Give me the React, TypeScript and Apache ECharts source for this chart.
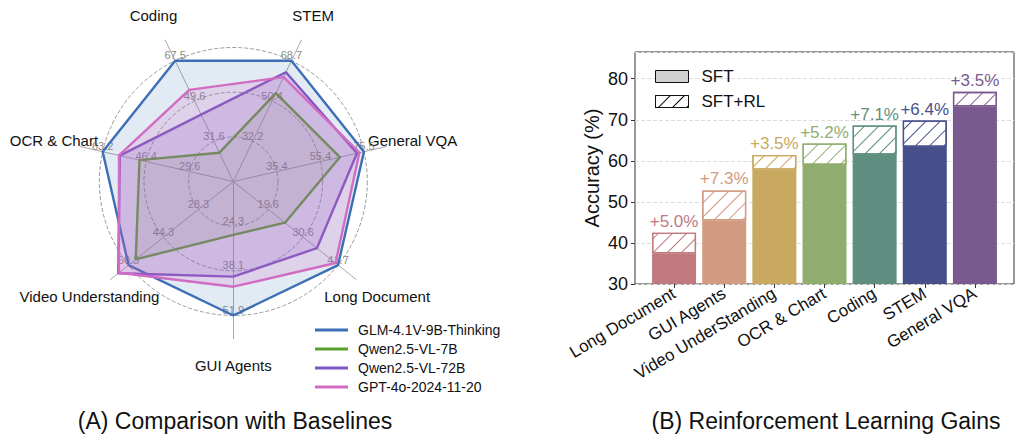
import React, { useEffect, useRef } from 'react';
import * as echarts from 'echarts';

// ---------- Radar data (A) ----------
const radarAxes = ['GUI Agents', 'Long Document', 'General VQA', 'STEM', 'Coding', 'OCR & Chart', 'Video Understanding'];
// ring tick labels per axis (inner, middle, outer)
const ringLabels = [
  [24.3, 38.1, 51.9],
  [19.6, 30.6, 41.7],
  [35.4, 55.4, 75.5],
  [32.2, 50.4, 68.7],
  [31.6, 49.6, 67.5],
  [29.6, 46.4, 63.2],
  [28.3, 44.3, 60.3],
];
const modelNames = ['GLM-4.1V-9B-Thinking', 'Qwen2.5-VL-7B', 'Qwen2.5-VL-72B', 'GPT-4o-2024-11-20'];
const glmValues = [51.9, 41.7, 75.5, 68.7, 67.5, 63.2, 60.3];
const qwen7bValues = [27.0, 24.9, 64.4, 54.0, 26.5, 49.0, 57.0];
const qwen72bValues = [39.9, 35.0, 72.3, 63.5, 43.5, 56.6, 65.0];
const gpt4oValues = [43.0, 40.9, 73.4, 61.3, 54.5, 56.9, 64.7];

// ---------- Bar data (B) ----------
const barCategories = ['Long Document', 'GUI Agents', 'Video UnderStanding', 'OCR & Chart', 'Coding', 'STEM', 'General VQA'];
const sftValues = [37.5, 45.5, 57.9, 59.0, 61.5, 63.4, 73.3];
const rlGains = [5.0, 7.3, 3.5, 5.2, 7.1, 6.4, 3.5];
const yMin = 30;
const yMax = 86.5;
const yInterval = 10;

const modelColors = ['#3d6fb6', '#5aa02c', '#7e57c2', '#d26cc3'];
const modelFill = [0.15, 0.12, 0.2, 0.2];
const barColors = ['#c07a7f', '#d39a82', '#c8a95f', '#8fad6f', '#5e8f80', '#464f8a', '#7a5a8e'];

const FONT = "'Liberation Sans', Arial, Helvetica, sans-serif";

const allRingLabels = ringLabels.flat();

function hatch(color: string) {
  return {
    symbol: 'rect',
    symbolSize: 1,
    dashArrayX: [[1, 0]],
    dashArrayY: [1, 9],
    rotation: -Math.PI / 4,
    color,
    backgroundColor: '#ffffff',
  };
}

export default function App() {
  const ref = useRef<HTMLDivElement>(null);
  useEffect(() => {
    document.body.style.margin = '0';
    const chart = echarts.init(ref.current!, undefined, { renderer: 'svg' });

    const indicators1 = radarAxes.map((name, i) => {
      const [l1, , l3] = ringLabels[i];
      const d = (l3 - l1) / 2;
      return { name, min: l1 - d, max: l3 };
    });
    const indicators2 = radarAxes.map((name) => ({ name, min: 0, max: 1 }));

    const radarSeriesData = [glmValues, qwen7bValues, qwen72bValues, gpt4oValues];

    const option: any = {
      animation: false,
      textStyle: { fontFamily: FONT },
      title: [
        {
          text: '(A) Comparison with Baselines',
          left: 230,
          textAlign: 'center',
          top: 404,
          textStyle: { fontFamily: FONT, fontSize: 23, fontWeight: 'normal', color: '#111' },
        },
        {
          text: '(B) Reinforcement Learning Gains',
          left: 821,
          textAlign: 'center',
          top: 404,
          textStyle: { fontFamily: FONT, fontSize: 23, fontWeight: 'normal', color: '#111' },
        },
      ],
      legend: [
        {
          data: modelNames.map((n, i) => ({ name: n, itemStyle: { color: modelColors[i] } })),
          orient: 'vertical',
          left: 310,
          top: 318,
          icon: 'rect',
          itemWidth: 33,
          itemHeight: 3,
          itemGap: 5,
          textStyle: { fontFamily: FONT, fontSize: 14, color: '#111', padding: [0, 0, 0, 5] },
          selectedMode: false,
        },
        {
          data: [
            { name: 'SFT', itemStyle: { color: '#d0d0d0', borderColor: '#111', borderWidth: 1 } },
            { name: 'SFT+RL', itemStyle: { color: '#ffffff', borderColor: '#111', borderWidth: 1, decal: hatch('#111') } },
          ],
          orient: 'vertical',
          left: 650,
          top: 63,
          icon: 'rect',
          itemWidth: 33,
          itemHeight: 12,
          itemGap: 8,
          textStyle: { fontFamily: FONT, fontSize: 17, color: '#111', padding: [0, 0, 0, 8] },
          selectedMode: false,
        },
      ],
      radar: [
        {
          center: [233.3, 181.5],
          radius: 134,
          startAngle: 270,
          splitNumber: 3,
          shape: 'circle',
          indicator: indicators1,
          axisName: { show: false },
          axisLine: { show: false },
          axisTick: { show: false },
          splitArea: { show: false },
          splitLine: { lineStyle: { color: '#9a9a9a', type: 'dashed', width: 1 } },
          axisLabel: {
            show: true,
            fontSize: 11,
            color: '#8a8a8a',
            fontFamily: FONT,
            margin: 0,
            align: 'center',
            verticalAlign: 'bottom',
            formatter: (value: number, index: number) => {
              if (index === 0) return '';
              let best = allRingLabels[0];
              for (const l of allRingLabels) if (Math.abs(l - value) < Math.abs(best - value)) best = l;
              return best.toFixed(1);
            },
          },
        },
        {
          center: [233.3, 181.5],
          radius: 157,
          startAngle: 270,
          splitNumber: 1,
          shape: 'circle',
          indicator: indicators2,
          nameGap: 27,
          axisName: { show: true, color: '#111', fontSize: 15, fontFamily: FONT, align: 'center', verticalAlign: 'middle' },
          axisLine: { show: true, lineStyle: { color: '#a8a8a8', width: 1 } },
          axisTick: { show: false },
          axisLabel: { show: false },
          splitArea: { show: false },
          splitLine: { show: false },
        },
      ],
      grid: [
        { left: 635, top: 52, width: 379, height: 232, show: true, borderColor: '#333', borderWidth: 1, backgroundColor: 'transparent' },
        { left: 649, top: 52, width: 351, height: 232, show: false },
      ],
      xAxis: [
        { type: 'value', gridIndex: 0, show: false, min: 0, max: 1 },
        {
          type: 'category',
          gridIndex: 1,
          data: barCategories,
          axisLine: { show: false },
          axisTick: { show: true, alignWithLabel: true, length: 4, lineStyle: { color: '#333' } },
          axisLabel: { rotate: 31, fontSize: 17, color: '#111', fontFamily: FONT, margin: 8, interval: 0 },
        },
      ],
      yAxis: [
        {
          type: 'value',
          gridIndex: 0,
          min: yMin,
          max: yMax,
          interval: yInterval,
          name: 'Accuracy (%)',
          nameLocation: 'middle',
          nameGap: 33,
          nameTextStyle: { fontSize: 20, color: '#111', fontFamily: FONT },
          axisLine: { show: false },
          axisTick: { show: true, length: 4, lineStyle: { color: '#333' } },
          axisLabel: { fontSize: 18, color: '#111', fontFamily: FONT, margin: 7, showMaxLabel: false },
          splitLine: { show: true, lineStyle: { color: '#dddddd', type: 'dashed', width: 1 } },
        },
        { type: 'value', gridIndex: 1, min: yMin, max: yMax, interval: yInterval, show: false, splitLine: { show: false } },
      ],
      series: [
        ...radarSeriesData.map((vals, i) => ({
          type: 'radar',
          radarIndex: 0,
          name: modelNames[i],
          symbol: 'none',
          z: 2 + i,
          lineStyle: { color: modelColors[i], width: 2.4 },
          itemStyle: { color: modelColors[i] },
          areaStyle: { color: modelColors[i], opacity: modelFill[i] },
          data: [{ name: modelNames[i], value: vals }],
        })),
        {
          type: 'bar',
          name: 'SFT',
          xAxisIndex: 1,
          yAxisIndex: 1,
          stack: 'acc',
          barWidth: 44,
          data: sftValues.map((v, i) => ({ value: v, itemStyle: { color: barColors[i] } })),
        },
        {
          type: 'bar',
          name: 'SFT+RL',
          xAxisIndex: 1,
          yAxisIndex: 1,
          stack: 'acc',
          barWidth: 44,
          data: rlGains.map((g, i) => ({
            value: g,
            itemStyle: { color: '#ffffff', borderColor: barColors[i], borderWidth: 1.3, decal: hatch(barColors[i]) },
            label: {
              show: true,
              position: 'top',
              distance: 3,
              color: barColors[i],
              fontSize: 17,
              fontFamily: FONT,
              formatter: `+${g.toFixed(1)}%`,
            },
          })),
        },
      ],
    };
    chart.setOption(option);
    return () => chart.dispose();
  }, []);
  return <div ref={ref} style={{ width: 1023, height: 445 }} />;
}
